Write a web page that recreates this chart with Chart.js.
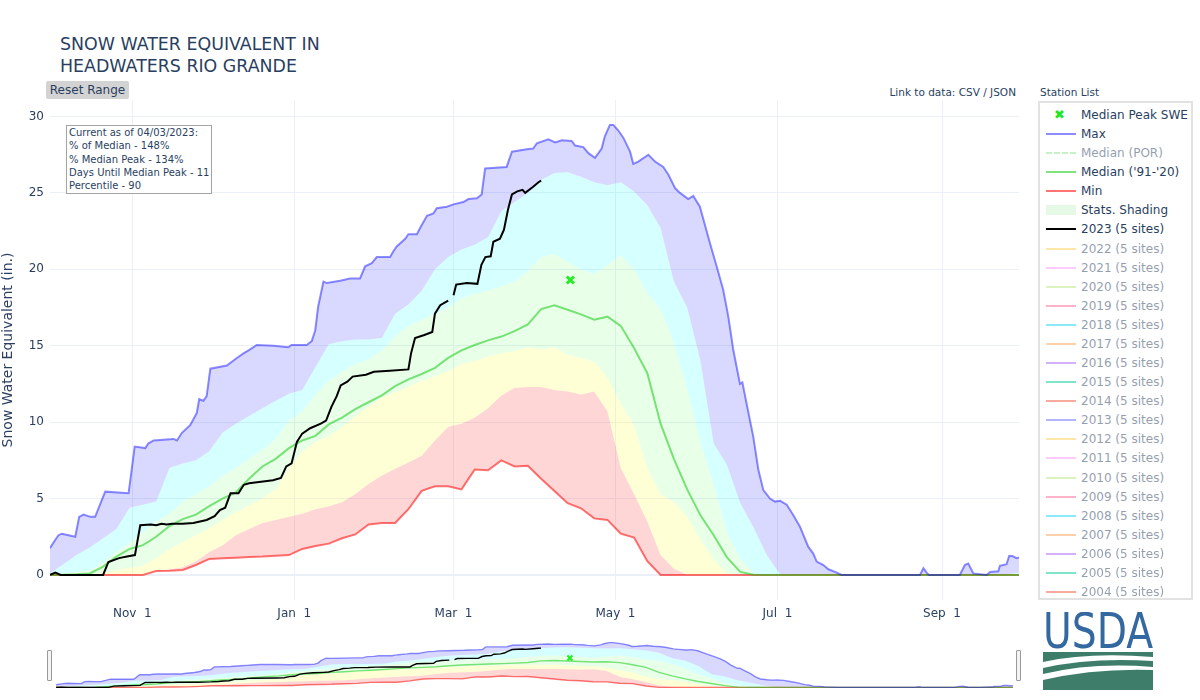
<!DOCTYPE html>
<html>
<head>
<meta charset="utf-8">
<title>Snow Water Equivalent in Headwaters Rio Grande</title>
<script src="https://cdn.jsdelivr.net/npm/chart.js@4.4.1/dist/chart.umd.min.js"></script>
<style>
  body { margin: 0; width: 1200px; height: 700px; background: #fff; position: relative; overflow: hidden;
         font-family: "DejaVu Sans", Verdana, sans-serif; color: #2a3f5f; }
  .abs { position: absolute; white-space: nowrap; }
  #title { left: 60px; top: 33px; font-size: 17.4px; line-height: 22px; }
  #resetBtn { left: 46px; top: 81px; width: 83px; height: 18px; background: #d3d3d3; border-radius: 2px;
              font-size: 12px; line-height: 18px; text-align: center; }
  #note { left: 66px; top: 125px; width: 146px; height: 69px; box-sizing: border-box; border: 1px solid #a4a4a4;
          background: #fff; font-size: 10px; line-height: 13.3px; padding: 0 0 0 2px; }
  #dataLink { right: 184px; top: 85px; font-size: 10.5px; line-height: 14px; }
  #stationTitle { left: 1040px; top: 85px; font-size: 10.5px; line-height: 14px; }
  #legendBox { left: 1038px; top: 101px; width: 155px; height: 499px; box-sizing: border-box; border: 2px solid #e2e2e2; }
  .lg-text { font-size: 12px; line-height: 16px; }
  #mainWrap { left: 0; top: 0; }
  #miniWrap { left: 50px; top: 634px; }
  .handle { width: 3px; height: 29px; border: 1px solid #9a9a9a; background: #f4f4f4; border-radius: 1px; }
</style>
</head>
<body>
<div id="title" class="abs">SNOW WATER EQUIVALENT IN<br>HEADWATERS RIO GRANDE</div>
<div id="resetBtn" class="abs">Reset Range</div>
<div id="dataLink" class="abs">Link to data: CSV / JSON</div>
<div id="stationTitle" class="abs">Station List</div>
<div id="legendBox" class="abs"></div>

<div id="mainWrap" class="abs"><canvas id="sweChart" width="1030" height="630"></canvas></div>
<div id="note" class="abs">Current as of 04/03/2023:<br>% of Median - 148%<br>% Median Peak - 134%<br>Days Until Median Peak - 11<br>Percentile - 90</div>

<div id="miniWrap" class="abs"><canvas id="miniChart" width="969" height="62"></canvas></div>
<div class="abs handle" style="left:47px; top:650px;"></div>
<div class="abs handle" style="left:1016px; top:650px;"></div>

<svg class="abs" style="left:1043px; top:612px;" width="112" height="80" viewBox="0 0 112 80">
  <text x="0" y="36" font-family="'Liberation Sans Narrow', 'DejaVu Sans Condensed', sans-serif" font-size="50"
        textLength="110" lengthAdjust="spacingAndGlyphs" fill="#3368a0">USDA</text>
  <rect x="0" y="40" width="110" height="38" fill="#3f7d6b"/>
  <path d="M0 50 Q45 40 110 45 L110 49 Q48 45 0 56 Z" fill="#fff"/>
  <path d="M0 62 Q50 50 110 55 L110 58 Q52 56 0 68 Z" fill="#fff"/>
</svg>

<script>
// ========== DATA ==========
// day index counted from Oct 1 (water year, Feb 29 included)
const days = [0, 5, 10, 15, 20, 25, 30, 35, 40, 45, 50, 55, 60, 65, 70, 75, 80, 85, 90, 95,
              100, 105, 110, 115, 120, 125, 130, 135, 140, 145, 150, 155, 160, 165, 170, 175, 180, 185, 190, 195,
              200, 205, 210, 215, 220, 225, 230, 235, 240, 245, 250, 255, 260, 265, 270, 275, 280, 285, 290, 295,
              300, 305, 310, 315, 320, 325, 330, 335, 340, 345, 350, 355, 360, 365];

// the max line has sharp steps, so it gets its own (finer) days
const maxDays = [0, 2, 3.2, 4.5, 9.5, 11, 12.6, 15.2, 17, 20.8, 29.6, 31.9, 35.9, 37, 39, 46.5, 47.8, 49.7, 52.8, 55.3,
                 56.2, 57.8, 59, 60.4, 66.6, 70.4, 72.9, 74.8, 77.9, 84.2, 89.8, 91, 96.7, 98.6, 99.9, 101, 103, 104.3, 109.3, 113,
                 116.8, 118.7, 121.2, 123.1, 128.1, 129.4, 130.6, 133.8, 135, 138.2, 139.4, 142, 144.4, 145.7, 149.5, 152, 155.7, 157.6, 160.8, 162.6,
                 163.9, 172, 174, 179.6, 182, 183.4, 187.7, 190.3, 192.8, 196.5, 197.8, 200.9, 202.8, 205.3, 207.8, 209, 210.9, 212.2, 214, 216,
                 218.5, 219.7, 221.6, 225.4, 227.9, 231, 232.9, 235.5, 237.3, 240.4, 242.3, 244.8, 246.7, 248.6, 251.1, 253.6, 255.5, 257.4, 259.9, 260.8,
                 262.4, 264.9, 266.8, 268.7, 271.2, 273.1, 275, 277.5, 280, 282.5, 285.6, 287.5, 288.8, 291.3, 293.2, 295.7, 298.2, 327.7, 329, 330.2,
                 331, 342.7, 344.6, 345.9, 347.8, 352.8, 354.1, 357.2, 357.8, 360.3, 361.3, 362.5, 364.1, 365];
const maxSwe = [1.75, 2.3, 2.6, 2.7, 2.5, 3.8, 3.95, 3.8, 3.8, 5.45, 5.35, 8.4, 8.3, 8.6, 8.8, 8.9, 8.8, 9.3, 9.8, 10.6,
                11.5, 11.4, 11.7, 13.5, 13.7, 14.2, 14.5, 14.7, 15.05, 15.0, 14.9, 15.05, 15.05, 15.3, 16.0, 17.55, 19.2, 19.1, 19.25, 19.4,
                19.4, 20.2, 20.4, 20.8, 20.8, 21.2, 21.5, 22.0, 22.3, 22.3, 22.7, 23.5, 23.65, 24.0, 24.1, 24.25, 24.4, 24.6, 24.65, 24.9,
                26.6, 26.7, 27.7, 27.85, 27.9, 28.25, 28.5, 28.3, 28.45, 28.4, 28.1, 28.0, 27.6, 27.3, 27.9, 28.7, 29.45, 29.45, 29.1, 28.6,
                27.7, 26.9, 27.05, 27.5, 27.05, 26.7, 26.2, 25.3, 25.0, 24.6, 24.8, 24.1, 22.9, 21.7, 20.2, 18.65, 16.9, 14.7, 12.5, 12.6,
                11.2, 9.05, 6.9, 5.55, 5.0, 4.8, 4.85, 4.6, 3.9, 3.15, 1.85, 1.4, 0.87, 0.65, 0.37, 0.2, 0, 0, 0.44, 0.15,
                0, 0, 0.65, 0.75, 0.1, 0, 0.2, 0.24, 0.6, 0.7, 1.24, 1.24, 1.1, 1.15];

const p90Swe = [0.1, 0.7, 1.3, 1.8, 2.4, 3.0, 4.4, 4.6, 4.8, 7.0, 7.3, 7.5, 8.1, 9.3, 9.9, 10.4, 10.9, 11.4, 11.85, 12.1,
                13.6, 15.1, 15.3, 15.4, 15.4, 15.5, 17.1, 17.7, 18.6, 20.0, 20.8, 21.3, 21.6, 22.1, 23.8, 24.4, 25.0, 25.85, 26.3, 26.35,
                26.05, 25.7, 25.5, 25.7, 25.1, 24.2, 22.7, 19.2, 17.5, 14.0, 8.6, 7.2, 4.7, 3.1, 1.3, 0.05, 0, 0, 0, 0,
                0, 0, 0, 0, 0, 0, 0, 0, 0, 0, 0, 0, 0.05, 0.15];

const p70Swe = [0, 0.1, 0.2, 0.3, 0.8, 1.5, 2.1, 2.8, 3.5, 4.0, 4.8, 5.3, 5.8, 6.5, 7.0, 7.6, 8.2, 8.9, 10.1, 10.7,
                11.8, 12.7, 13.3, 13.8, 14.1, 14.7, 15.6, 16.3, 16.7, 17.1, 17.5, 18.1, 18.4, 18.6, 18.9, 19.2, 19.9, 20.8, 21.0, 20.5,
                20.0, 19.7, 20.3, 20.9, 20.0, 18.4, 17.4, 15.2, 12.2, 8.7, 5.9, 2.8, 1.1, 0.1, 0, 0, 0, 0, 0, 0,
                0, 0, 0, 0, 0, 0, 0, 0, 0, 0, 0, 0, 0, 0];

const p30Swe = [0, 0, 0, 0.05, 0.15, 0.3, 0.45, 0.6, 1.1, 1.7, 2.15, 2.6, 3.05, 3.6, 4.1, 4.55, 5.0, 5.6, 7.0, 8.1,
                8.7, 9.1, 9.65, 10.4, 11.0, 11.6, 11.95, 12.3, 12.7, 13.0, 13.35, 13.8, 14.0, 14.3, 14.5, 14.65, 14.9, 14.75, 14.9, 14.4,
                14.2, 13.95, 12.9, 11.2, 9.8, 7.0, 5.3, 4.75, 3.8, 2.3, 1.0, 0.1, 0, 0, 0, 0, 0, 0, 0, 0,
                0, 0, 0, 0, 0, 0, 0, 0, 0, 0, 0, 0, 0, 0];

const p10Swe = [0, 0, 0, 0, 0, 0, 0, 0, 0.3, 0.35, 0.5, 0.9, 1.5, 1.95, 2.6, 3.0, 3.4, 3.6, 3.8, 4.0,
                4.3, 4.5, 4.75, 5.3, 5.95, 6.5, 6.95, 7.35, 7.8, 8.8, 9.7, 9.9, 10.3, 10.9, 11.75, 12.25, 12.3, 12.3, 12.1, 12.0,
                11.8, 12.0, 10.7, 7.0, 5.3, 3.5, 1.3, 0.4, 0, 0, 0, 0, 0, 0, 0, 0, 0, 0, 0, 0,
                0, 0, 0, 0, 0, 0, 0, 0, 0, 0, 0, 0, 0, 0];

const minSwe = [0, 0, 0, 0, 0, 0, 0, 0, 0.25, 0.28, 0.33, 0.65, 1.05, 1.1, 1.13, 1.17, 1.2, 1.25, 1.3, 1.7,
                1.9, 2.05, 2.4, 2.65, 3.3, 3.4, 3.4, 4.3, 5.5, 5.8, 5.8, 5.6, 6.9, 6.85, 7.5, 7.1, 7.15, 6.3, 5.5, 4.7,
                4.36, 3.7, 3.6, 2.7, 2.45, 0.9, 0, 0, 0, 0, 0, 0, 0, 0, 0, 0, 0, 0, 0, 0,
                0, 0, 0, 0, 0, 0, 0, 0, 0, 0, 0, 0, 0, 0];

const medianSwe = [0, 0.02, 0.05, 0.1, 0.55, 1.2, 1.7, 1.95, 2.5, 3.2, 3.65, 3.95, 4.5, 5.0, 5.4, 6.3, 7.1, 7.6, 8.3, 8.8,
                   9.1, 9.85, 10.3, 10.85, 11.3, 11.75, 12.35, 12.8, 13.15, 13.55, 14.2, 14.7, 15.05, 15.35, 15.6, 15.95, 16.4, 17.4, 17.65, 17.35,
                   17.05, 16.7, 16.9, 16.3, 14.85, 13.2, 9.9, 7.6, 5.6, 3.9, 2.6, 1.15, 0.2, 0.02, 0, 0, 0, 0, 0, 0,
                   0, 0, 0, 0, 0, 0, 0, 0, 0, 0, 0, 0, 0, 0];

// 2023 (5 sites) - Feb 29 does not exist, hence the null
const days2023 = [0, 2, 4, 20, 22, 26, 29, 32, 34, 38, 40, 42, 44, 46, 50, 54, 59, 62, 64, 66,
                  68, 71, 73, 75, 84, 87, 89, 91, 93, 95, 98, 102, 104, 106, 108, 109.5, 112, 114, 119, 122,
                  128, 135, 136, 137.5, 141, 144, 145, 147, 150, 151, 152, 153, 157, 161, 162.5, 164, 166, 167, 169.5, 171,
                  172.5, 174, 176, 178, 179, 182, 184, 185];
const swe2023 = [0, 0.15, 0, 0, 0.85, 1.1, 1.2, 1.3, 3.25, 3.3, 3.25, 3.35, 3.3, 3.35, 3.35, 3.4, 3.6, 3.85, 4.25, 4.4,
                 5.35, 5.35, 5.9, 6.0, 6.2, 6.35, 7.1, 7.3, 8.7, 9.25, 9.6, 9.9, 10.1, 11.0, 11.7, 12.4, 12.65, 12.98, 13.1, 13.3,
                 13.37, 13.45, 14.5, 15.5, 15.7, 15.9, 17.1, 17.65, 17.95, null, 18.3, 19.0, 19.1, 19.05, 20.3, 20.8, 20.85, 21.8, 22.0, 22.6,
                 23.9, 24.9, 25.1, 25.2, 25.0, 25.4, 25.7, 25.8];

const peakDay = [196];
const peakSwe = [19.3];

const xTickDays = [31, 92, 152, 213, 274, 336];
const xTickLabels = ['Nov  1', 'Jan  1', 'Mar  1', 'May  1', 'Jul  1', 'Sep  1'];
const yTicks = [0, 5, 10, 15, 20, 25, 30];
const yRange = [-1.64, 31.08];

// legend entries (only the first seven are switched on)
const legendNames = ['Median Peak SWE', 'Max', 'Median (POR)', "Median ('91-'20)", 'Min', 'Stats. Shading', '2023 (5 sites)',
                     '2022 (5 sites)', '2021 (5 sites)', '2020 (5 sites)', '2019 (5 sites)', '2018 (5 sites)', '2017 (5 sites)',
                     '2016 (5 sites)', '2015 (5 sites)', '2014 (5 sites)', '2013 (5 sites)', '2012 (5 sites)', '2011 (5 sites)',
                     '2010 (5 sites)', '2009 (5 sites)', '2008 (5 sites)', '2007 (5 sites)', '2006 (5 sites)', '2005 (5 sites)', '2004 (5 sites)'];
const legendColors = ['#22e622', 'rgba(0,0,255,0.45)', '#8de88d', 'rgba(0,200,0,0.5)', 'rgba(255,0,0,0.55)', '#e6f8e6', '#000',
                      '#FECB52', '#FF97FF', '#B6E880', '#FF6692', '#19d3f3', '#FFA15A', '#ab63fa', '#00cc96', '#EF553B', '#636efa',
                      '#FECB52', '#FF97FF', '#B6E880', '#FF6692', '#19d3f3', '#FFA15A', '#ab63fa', '#00cc96', '#EF553B'];
const legendActive = [true, true, false, true, true, true, true];

const TEXT = '#2a3f5f';
Chart.defaults.font.family = '"DejaVu Sans", Verdana, sans-serif';

// ========== DATASETS ==========
const pts = (xs, ys) => xs.map((x, i) => ({ x: x, y: ys[i] }));

function makeDatasets(w) {
    const band = (xs, data, color, order) => ({
        data: pts(xs, data), borderWidth: 0, pointRadius: 0, fill: '+1', backgroundColor: color, order: order
    });
    return [
        { data: pts(peakDay, peakSwe), showLine: false, pointStyle: 'crossRot', pointRadius: 5 * w,
          pointBorderWidth: 3 * w, pointBorderColor: '#22ee22', order: 0 },
        { data: pts(days2023, swe2023), borderColor: '#000', borderWidth: 2 * w, pointRadius: 0, order: 1 },
        Object.assign(band(maxDays, maxSwe, 'rgba(0,0,255,0.15)', 2), { borderColor: 'rgba(0,0,255,0.45)', borderWidth: 2 * w }),
        band(days, p90Swe, 'rgba(0,255,255,0.16)', 5),
        band(days, p70Swe, 'rgba(0,255,0,0.09)', 5),
        band(days, p30Swe, 'rgba(255,255,0,0.16)', 5),
        band(days, p10Swe, 'rgba(255,0,0,0.16)', 5),
        { data: pts(days, minSwe), borderColor: 'rgba(255,0,0,0.55)', borderWidth: 2 * w, pointRadius: 0, order: 4 },
        { data: pts(days, medianSwe), borderColor: 'rgba(0,200,0,0.5)', borderWidth: 2 * w, pointRadius: 0, order: 3 }
    ];
}

const baseOptions = {
    responsive: false,
    animation: false,
    events: [],
    plugins: { legend: { display: false }, tooltip: { enabled: false }, filler: { drawTime: 'beforeDatasetsDraw' } },
    elements: { line: { tension: 0 } }
};

// ========== MAIN CHART ==========
new Chart(document.getElementById('sweChart'), {
    type: 'line',
    data: { datasets: makeDatasets(1) },
    options: Object.assign({}, baseOptions, {
        layout: { padding: { left: 0, top: 100, right: 11, bottom: 0 } },
        scales: {
            x: {
                type: 'linear', min: 0, max: 365,
                afterBuildTicks: s => { s.ticks = xTickDays.map(v => ({ value: v })); },
                afterFit: s => { s.height = 30; },
                ticks: {
                    callback: v => xTickLabels[xTickDays.indexOf(v)],
                    color: TEXT, font: { size: 12 }, padding: 7, maxRotation: 0, autoSkip: false
                },
                grid: { color: '#ebf0f8', drawTicks: false },
                border: { display: false }
            },
            y: {
                min: yRange[0], max: yRange[1],
                afterBuildTicks: s => { s.ticks = yTicks.map(v => ({ value: v })); },
                afterFit: s => { s.width = 50; },
                ticks: { color: TEXT, font: { size: 12 }, padding: 6 },
                grid: {
                    color: '#ebf0f8', drawTicks: false,
                    lineWidth: ctx => (ctx.tick && ctx.tick.value === 0 ? 2 : 1)
                },
                border: { display: false },
                title: {
                    display: true, text: 'Snow Water Equivalent (in.)', color: TEXT,
                    font: { size: 14 }, padding: { top: 0, bottom: 0 }
                }
            }
        }
    })
});

// ========== RANGE SLIDER PREVIEW ==========
new Chart(document.getElementById('miniChart'), {
    type: 'line',
    data: { datasets: makeDatasets(0.7) },
    options: Object.assign({}, baseOptions, {
        layout: { padding: 0 },
        scales: {
            x: { type: 'linear', min: 0, max: 365, display: false },
            y: { min: yRange[0], max: yRange[1], display: false }
        }
    })
});

// ========== LEGEND ==========
legendNames.forEach((name, i) => {
    const cy = 115 + i * 19.08;
    const on = i < legendActive.length ? legendActive[i] : false;
    const sym = document.createElement('div');
    sym.className = 'abs';
    sym.style.left = '1046px';
    sym.style.opacity = on ? 1 : 0.5;
    if (i === 0) {
        sym.textContent = '\u2716';
        sym.style.cssText += 'left:1054px; top:' + (cy - 8) + 'px; font-size:13px; line-height:16px; color:' + legendColors[i] + ';';
    } else if (name === 'Stats. Shading') {
        sym.style.cssText += 'top:' + (cy - 5) + 'px; width:30px; height:10px; background:' + legendColors[i] + ';';
    } else {
        const dash = name === 'Median (POR)' ? 'dashed' : 'solid';
        sym.style.cssText += 'top:' + (cy - 1) + 'px; width:30px; height:0; border-top:2px ' + dash + ' ' + legendColors[i] + ';';
    }
    document.body.appendChild(sym);

    const label = document.createElement('div');
    label.className = 'abs lg-text';
    label.textContent = name;
    label.style.left = '1081px';
    label.style.top = (cy - 8) + 'px';
    label.style.opacity = on ? 1 : 0.5;
    document.body.appendChild(label);
});
</script>
</body>
</html>
